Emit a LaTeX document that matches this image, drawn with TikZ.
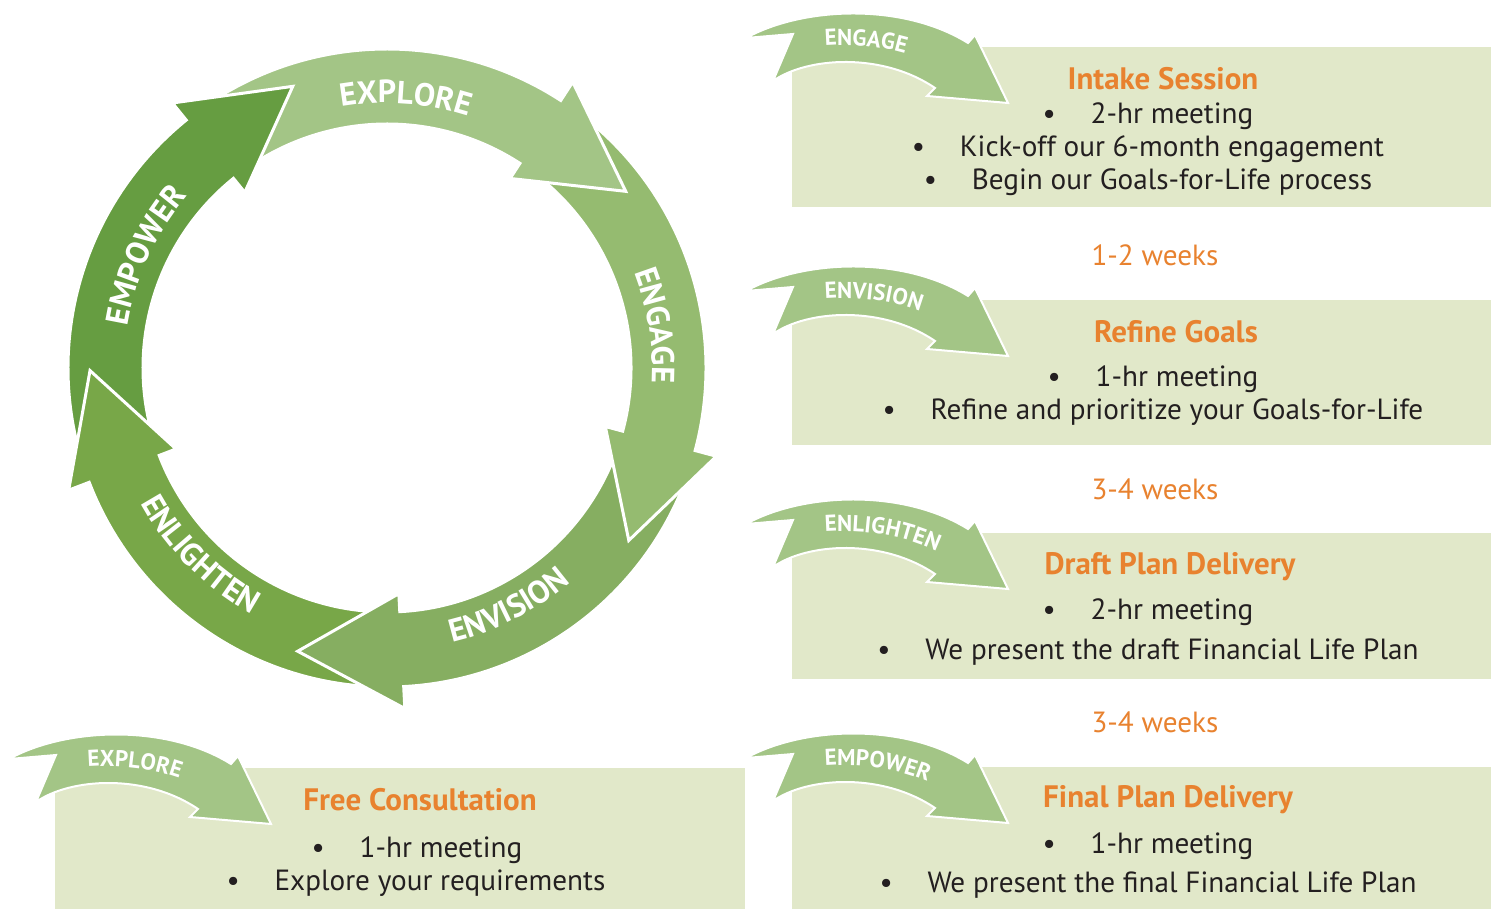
\documentclass[tikz,border=0pt]{standalone}
\usepackage{fontspec}
\setmainfont{PT Sans}
\usepackage{xcolor}
\usepackage{tikz}
\usetikzlibrary{decorations.text}
\definecolor{exploregreen}{HTML}{A3C586}
\definecolor{engagegreen}{HTML}{95BB70}
\definecolor{envisiongreen}{HTML}{86AE61}
\definecolor{enlightengreen}{HTML}{78A748}
\definecolor{empowergreen}{HTML}{669D41}
\definecolor{stagebg}{HTML}{E1E8C9}
\definecolor{stageorange}{HTML}{E8822F}
\definecolor{stageink}{HTML}{231F20}
\newcommand\ringfont{\fontsize{16}{19}\selectfont\bfseries}
\newcommand\tagfont{\fontsize{11.5}{13}\selectfont\bfseries}
\newcommand\bul{\makebox[24pt][l]{\textbullet}}
\tikzset{
  figfont/.style={font=\fontsize{14.6}{17}\selectfont},
  stagebox/.style={fill=stagebg, anchor=north west, inner sep=0pt, minimum width=349.5pt},
  stagetitle/.style={font=\fontsize{15.5}{18}\selectfont\bfseries, text=stageorange, anchor=base, inner sep=0pt},
  stageline/.style={figfont, text=stageink, anchor=base, inner sep=0pt},
  weeklabel/.style={figfont, text=stageorange, anchor=base, inner sep=0pt},
  ringarrow/.style={fill=#1, draw=white, line width=1.5pt, line join=miter},
  tagshape/.style={fill=exploregreen, draw=white, line width=1pt, line join=miter},
  ringlabel/.style={decorate, decoration={text along path, text={|\ringfont|#1}, text align=center, text color=white}},
  taglabel/.style={decorate, decoration={text along path, text={|\tagfont|#1}, text align=left, text color=white}},
}
% one arrow of the cycle: #1 = angle of the head base, #2 = colour
\newcommand\ringarrow[2]{%
  \path[ringarrow=#2] ({#1+68}:319) arc[start angle={#1+68}, end angle={#1}, radius=319]
    -- ({#1}:341) -- ({#1-20.5}:297) -- ({#1}:226) -- ({#1}:244)
    arc[start angle={#1}, end angle={#1+68}, radius=244] -- cycle;}
% small bent arrow on a stage box: #1 = top left corner of the box, #2 = label
\newcommand\tagarrow[2]{%
  \begin{scope}[shift={#1}]
    \path[tagshape] (-46,9) -- (1,13) -- (-19,-34)
      .. controls (15,-10) and (90,-5) .. (143,-41) -- (135,-49) -- (216,-56)
      -- (183,12) -- (176,4) .. controls (110,45) and (10,40) .. (-46,9) -- cycle;
    \path[taglabel=#2] (33,1) .. controls (75,4) and (115,-2) .. (160,-26);
  \end{scope}}

\begin{document}
\begin{tikzpicture}[x=0.5pt, y=0.5pt, figfont]
  \useasboundingbox (0,0) rectangle (1491,909);

  % Cycle of five arrows
  \begin{scope}[shift={(387,541)}]
    \ringarrow{129}{empowergreen}
    \ringarrow{-159}{enlightengreen}
    \ringarrow{-87}{envisiongreen}
    \ringarrow{-15}{engagegreen}
    \ringarrow{57}{exploregreen}
    % empower head lies over the explore tail
    \begin{scope}
      \clip (-360,110) rectangle (-60,400);
      \ringarrow{129}{empowergreen}
    \end{scope}
    \path[ringlabel=EXPLORE] (121:265) arc[start angle=121, end angle=51, radius=265];
    \path[ringlabel=ENGAGE] (44:265) arc[start angle=44, end angle=-26, radius=265];
    \path[ringlabel=ENVISION] (-98:282) arc[start angle=-98, end angle=-28, radius=282];
    \path[ringlabel=ENLIGHTEN] (-170:281) arc[start angle=-170, end angle=-100, radius=281];
    \path[ringlabel=EMPOWER] (190:263) arc[start angle=190, end angle=120, radius=263];
  \end{scope}

  % Stage boxes
  \node[stagebox, minimum height=80pt] (intake) at (792,862) {};
  \node[stagebox, minimum height=72.5pt] (refine) at (792,609) {};
  \node[stagebox, minimum height=73pt] (draft) at (792,376) {};
  \node[stagebox, minimum height=71pt] (final) at (792,142) {};
  \node[stagebox, minimum width=345pt, minimum height=70.5pt] (free) at (55,141) {};

  \tagarrow{(792,862)}{ENGAGE}
  \tagarrow{(792,609)}{ENVISION}
  \tagarrow{(792,376)}{ENLIGHTEN}
  \tagarrow{(792,142)}{EMPOWER}
  \tagarrow{(55,141)}{EXPLORE}

  % Stage texts
  \node[stagetitle] (intaketitle) at (1163,819) {Intake Session};
  \node[stageline] (intakeA) at (1148,785) {\bul 2-hr meeting};
  \node[stageline] (intakeB) at (1148,752) {\bul Kick-off our 6-month engagement};
  \node[stageline] (intakeC) at (1148,719) {\bul Begin our Goals-for-Life process};

  \node[weeklabel] (weeksA) at (1155,643) {1-2 weeks};

  \node[stagetitle] (refinetitle) at (1176,566) {Refine Goals};
  \node[stageline] (refineA) at (1153,522) {\bul 1-hr meeting};
  \node[stageline] (refineB) at (1153,489) {\bul Refine and prioritize your Goals-for-Life};

  \node[weeklabel] (weeksB) at (1155,409) {3-4 weeks};

  \node[stagetitle] (drafttitle) at (1170,334) {Draft Plan Delivery};
  \node[stageline] (draftA) at (1148,289) {\bul 2-hr meeting};
  \node[stageline] (draftB) at (1148,249) {\bul We present the draft Financial Life Plan};

  \node[weeklabel] (weeksC) at (1155,176) {3-4 weeks};

  \node[stagetitle] (finaltitle) at (1168,101) {Final Plan Delivery};
  \node[stageline] (finalA) at (1148,56) {\bul 1-hr meeting};
  \node[stageline] (finalB) at (1148,17) {\bul We present the final Financial Life Plan};

  \node[stagetitle] (freetitle) at (420,98) {Free Consultation};
  \node[stageline] (freeA) at (417,52) {\bul 1-hr meeting};
  \node[stageline] (freeB) at (416,19) {\bul Explore your requirements};
\end{tikzpicture}
\end{document}
